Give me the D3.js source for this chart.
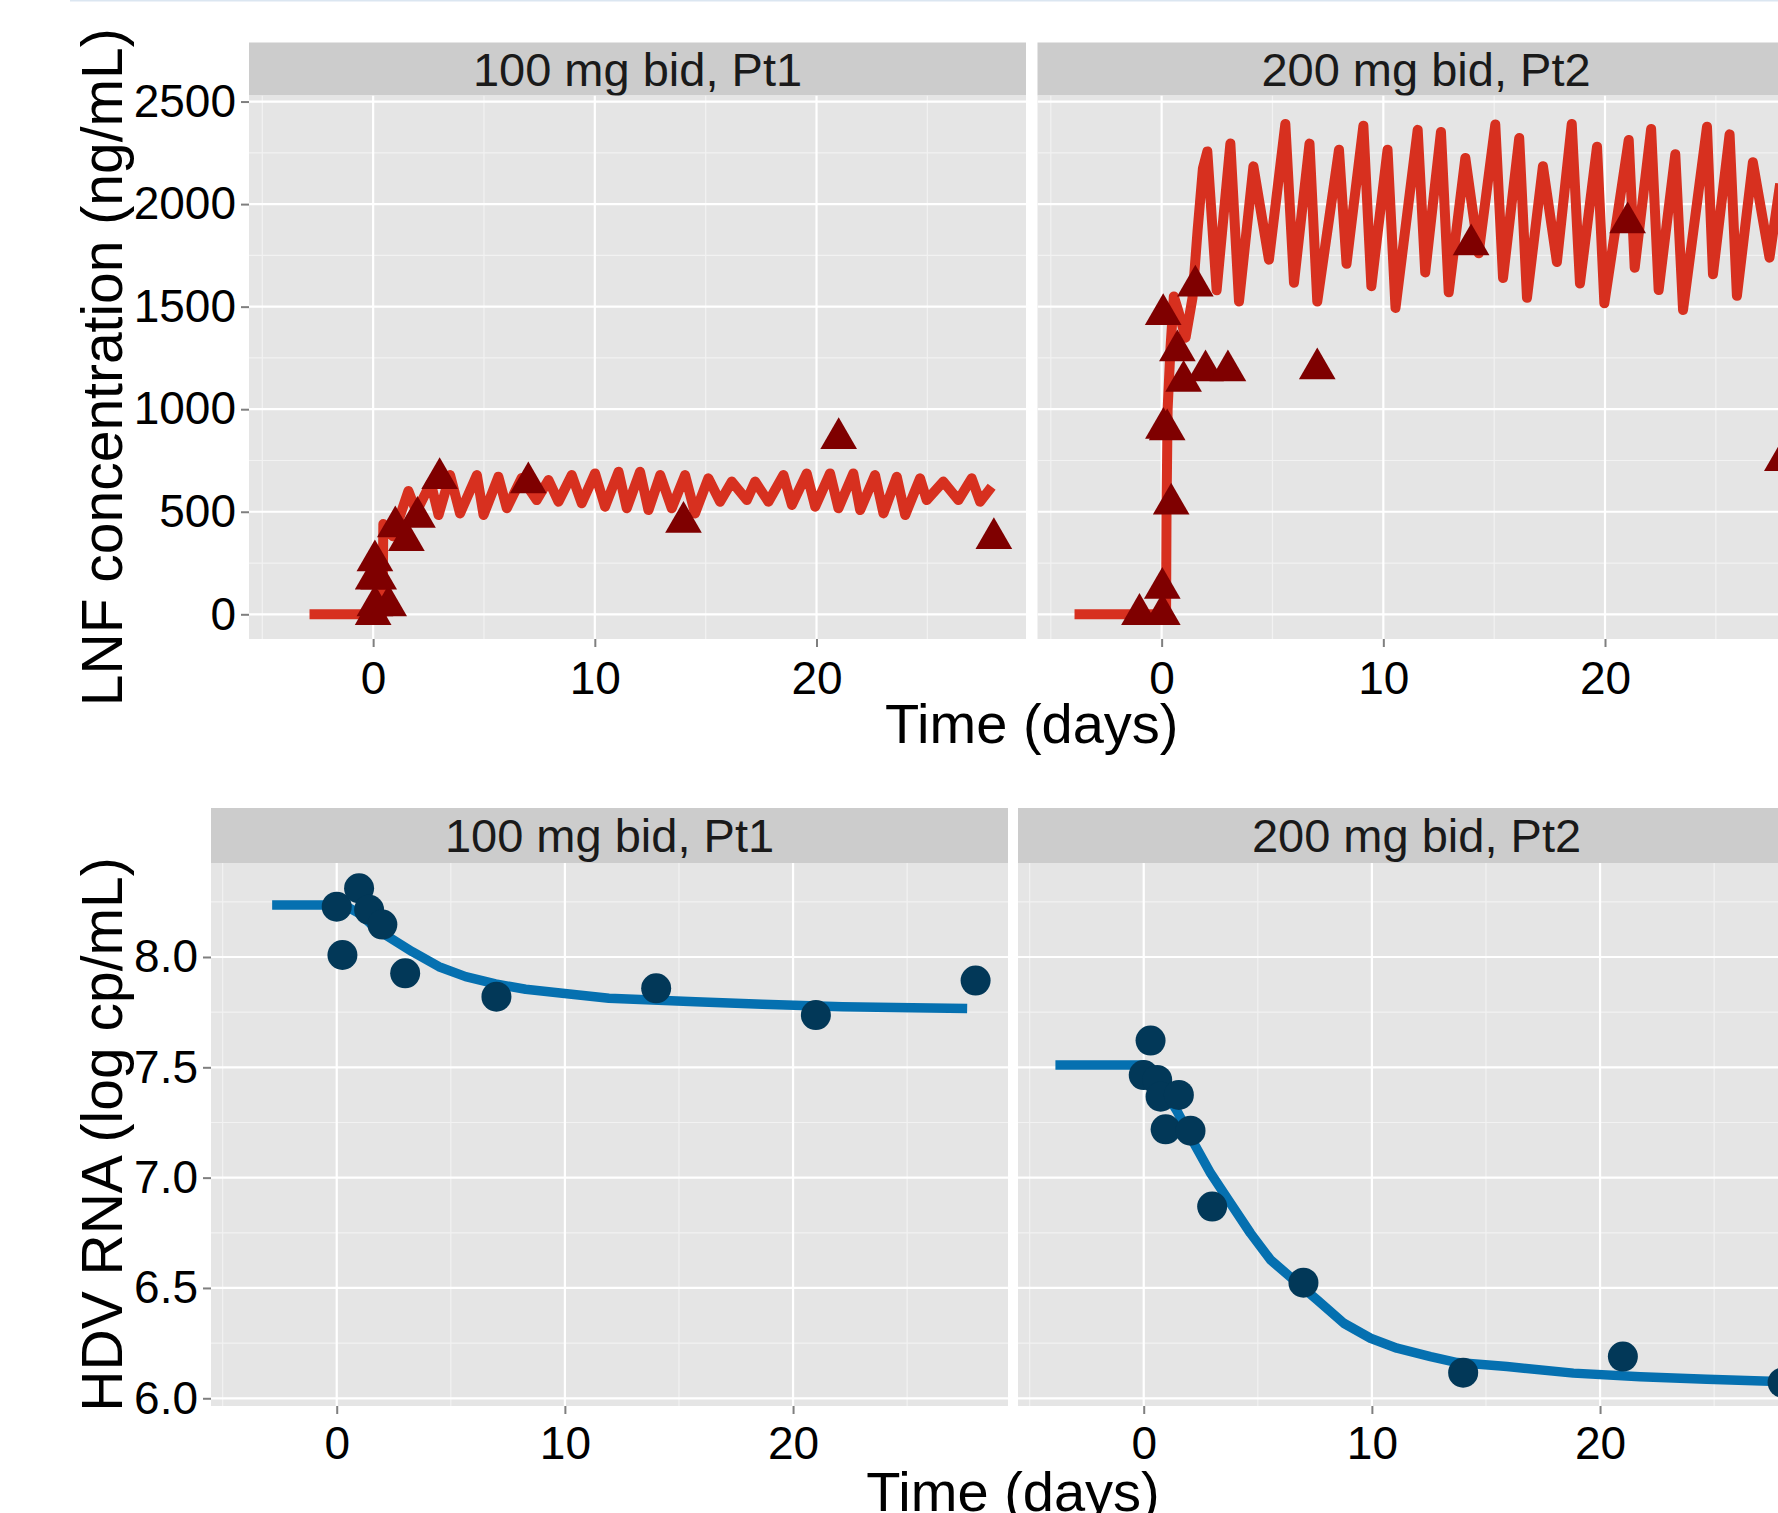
<!DOCTYPE html>
<html><head><meta charset="utf-8">
<script src="https://cdn.jsdelivr.net/npm/d3@7/dist/d3.min.js"></script>
<style>
body{margin:0;background:#fff;}
svg{display:block;}
text{font-family:"Liberation Sans", Arial, sans-serif;}
</style>
</head><body>
<svg id="chart" width="1778" height="1513"></svg>
<script>
// ---------- data ----------
const panelLabels = ["100 mg bid, Pt1", "200 mg bid, Pt2"];
const xTicks = [0, 10, 20];
const xMinorTicks = [-5, 5, 15, 25];
const lnfTicks = [0, 500, 1000, 1500, 2000, 2500];
const lnfMinorTicks = [250, 750, 1250, 1750, 2250];
const hdvTicks = [6.0, 6.5, 7.0, 7.5, 8.0];
const hdvMinorTicks = [6.25, 6.75, 7.25, 7.75, 8.25];

// LNF observed concentrations [day, ng/mL]
const lnfObsPt1 = [[0,0],[0.08,42],[0.7,42],[0,172],[0.25,172],[0.08,262],[1,427],[1.5,360],[2,474],[3,663],[7,642],[14,449],[21,858],[28,370]];
const lnfObsPt2 = [[-1,0],[0.03,0],[0.03,127],[0.43,538],[0.08,907],[0.25,900],[0.07,1462],[0.71,1285],[0.99,1137],[1.52,1601],[1.98,1188],[2.99,1188],[7.02,1198],[13.96,1802],[21.02,1909],[28,750]];

// LNF model predictions [day, ng/mL]
const lnfPredPt1 = [[-2.87,0],[0.42,0],[0.46,440],[0.9,380],[1.59,601],[1.95,500],[2.6,640],[2.95,484],[3.47,679],[3.92,492],[4.68,679],[4.98,484],[5.65,671],[6.03,517],[6.7,665],[7.38,557],[7.91,655],[8.36,549],[8.96,679],[9.41,541],[10.01,687],[10.46,525],[11.07,695],[11.44,517],[12.04,695],[12.42,508],[12.95,679],[13.47,517],[14.07,679],[14.52,492],[15.12,663],[15.65,549],[16.18,647],[16.86,557],[17.23,647],[17.83,549],[18.51,679],[18.89,533],[19.56,687],[19.94,525],[20.61,687],[20.99,517],[21.66,687],[21.97,508],[22.64,679],[23.02,492],[23.62,671],[24.0,484],[24.67,663],[24.97,557],[25.72,647],[26.4,557],[27.0,663],[27.38,549],[27.9,622]];
const lnfPredPt2 = [[-3.93,0],[0.2,0],[0.22,500],[0.27,1000],[0.4,1300],[0.55,1550],[0.75,1480],[1.08,1349],[1.39,1542],[1.62,1869],[1.86,2173],[2.06,2257],[2.48,1580],[3.1,2295],[3.49,1525],[4.14,2184],[4.84,1729],[5.58,2391],[5.97,1617],[6.67,2295],[7.02,1525],[8.0,2265],[8.34,1709],[9.1,2382],[9.46,1600],[10.19,2265],[10.55,1494],[11.55,2362],[11.89,1667],[12.6,2352],[12.95,1570],[13.7,2225],[14.3,1760],[15.05,2388],[15.4,1640],[16.13,2322],[16.48,1543],[17.2,2185],[17.83,1718],[18.5,2391],[18.87,1613],[19.64,2280],[19.97,1516],[21.07,2313],[21.34,1690],[22.08,2366],[22.42,1581],[23.17,2243],[23.52,1484],[24.6,2377],[24.87,1658],[25.62,2340],[25.95,1553],[26.67,2204],[27.42,1739],[27.9,2100]];

// HDV RNA observed [day, log cp/mL]
const hdvObsPt1 = [[0,8.228],[0.25,8.009],[0.98,8.311],[1.42,8.214],[2.0,8.147],[3,7.926],[7,7.82],[14,7.858],[21,7.737],[28,7.893]];
const hdvObsPt2 = [[0,7.465],[0.3,7.621],[0.59,7.443],[0.74,7.367],[0.96,7.219],[1.54,7.375],[2.05,7.213],[3,6.869],[7,6.524],[14,6.116],[21,6.189],[28,6.071]];

// HDV RNA model predictions [day, log cp/mL]
const hdvPredPt1 = [[-2.83,8.236],[0,8.236],[0.5,8.225],[0.98,8.198],[1.5,8.15],[2.14,8.10],[3.31,8.024],[4.48,7.956],[5.65,7.911],[6.96,7.878],[8.28,7.854],[9.89,7.836],[11.93,7.813],[15.73,7.797],[18.65,7.786],[22.16,7.775],[25.22,7.770],[27.63,7.766]];
const hdvPredPt2 = [[-3.87,7.511],[0,7.511],[0.4,7.49],[0.88,7.40],[1.47,7.30],[2.2,7.156],[2.93,7.02],[3.8,6.884],[4.68,6.748],[5.56,6.627],[6.58,6.536],[7.6,6.446],[8.77,6.34],[9.94,6.272],[11.1,6.227],[12.57,6.189],[13.74,6.162],[15.92,6.144],[18.83,6.114],[21.76,6.098],[24.68,6.086],[27.8,6.076]];

// ---------- drawing ----------
const svg = d3.select("#chart");
svg.append("rect").attr("x", 70).attr("y", 0).attr("width", 1708).attr("height", 1.5).attr("fill", "#dbe6f1");

let clipCount = 0;
function drawRow(o) {
  const y = d3.scaleLinear().domain(o.yDomain).range([o.panelBottom, o.panelTop]);
  o.panels.forEach((p, i) => {
    const left = o.lefts[i];
    const x = d3.scaleLinear().domain(o.xDomain).range([left, left + o.width]);
    const g = svg.append("g");
    // strip
    g.append("rect").attr("x", left).attr("y", o.stripTop).attr("width", o.width)
      .attr("height", o.panelTop - o.stripTop).attr("fill", "#cccccc");
    g.append("text").attr("x", left + o.width / 2).attr("y", o.stripBaseline)
      .attr("text-anchor", "middle").attr("font-size", 47).attr("fill", "#1a1a1a").text(panelLabels[i]);
    // panel
    g.append("rect").attr("x", left).attr("y", o.panelTop).attr("width", o.width)
      .attr("height", o.panelBottom - o.panelTop).attr("fill", "#e5e5e5");
    const cid = "clip" + (clipCount++);
    g.append("clipPath").attr("id", cid).append("rect")
      .attr("x", left).attr("y", o.panelTop).attr("width", o.width).attr("height", o.panelBottom - o.panelTop);
    const inner = g.append("g").attr("clip-path", `url(#${cid})`);
    // minor grid
    inner.selectAll(".vmin").data(xMinorTicks).join("line")
      .attr("x1", d => x(d)).attr("x2", d => x(d)).attr("y1", o.panelTop).attr("y2", o.panelBottom)
      .attr("stroke", "#f2f2f2").attr("stroke-width", 1.2);
    inner.selectAll(".hmin").data(o.yMinor).join("line")
      .attr("y1", d => y(d)).attr("y2", d => y(d)).attr("x1", left).attr("x2", left + o.width)
      .attr("stroke", "#f2f2f2").attr("stroke-width", 1.2);
    // major grid
    inner.selectAll(".vmaj").data(xTicks).join("line")
      .attr("x1", d => x(d)).attr("x2", d => x(d)).attr("y1", o.panelTop).attr("y2", o.panelBottom)
      .attr("stroke", "#ffffff").attr("stroke-width", 2.2);
    inner.selectAll(".hmaj").data(o.yTicks).join("line")
      .attr("y1", d => y(d)).attr("y2", d => y(d)).attr("x1", left).attr("x2", left + o.width)
      .attr("stroke", "#ffffff").attr("stroke-width", 2.2);
    // model line
    const line = d3.line().x(d => x(d[0])).y(d => y(d[1]));
    inner.append("path").datum(p.pred).attr("d", line).attr("fill", "none")
      .attr("stroke", o.lineColor).attr("stroke-width", o.lineWidth)
      .attr("stroke-linejoin", "round").attr("stroke-linecap", "butt");
    // observations
    if (o.shape === "triangle") {
      const sym = d3.symbol(d3.symbolTriangle, 583);
      inner.selectAll(".obs").data(p.obs).join("path")
        .attr("d", sym).attr("transform", d => `translate(${x(d[0])},${y(d[1])})`)
        .attr("fill", o.pointColor);
    } else {
      inner.selectAll(".obs").data(p.obs).join("circle")
        .attr("cx", d => x(d[0])).attr("cy", d => y(d[1])).attr("r", 15)
        .attr("fill", o.pointColor);
    }
    // x axis
    const xa = g.append("g").attr("transform", `translate(0,${o.panelBottom})`)
      .call(d3.axisBottom(x).tickValues(xTicks).tickSize(8).tickPadding(o.xPad));
    xa.select(".domain").remove();
    xa.selectAll("line").attr("stroke", "#7f7f7f").attr("stroke-width", 2);
    xa.selectAll("text").attr("font-size", 46).attr("fill", "#000")
      .attr("font-family", "Liberation Sans, Arial, sans-serif");
    // y axis only on first panel
    if (i === 0) {
      const ya = g.append("g").attr("transform", `translate(${left},0)`)
        .call(d3.axisLeft(y).tickValues(o.yTicks).tickSize(8).tickPadding(5).tickFormat(o.fmt));
      ya.select(".domain").remove();
      ya.selectAll("line").attr("stroke", "#7f7f7f").attr("stroke-width", 2);
      ya.selectAll("text").attr("font-size", 46).attr("fill", "#000")
        .attr("font-family", "Liberation Sans, Arial, sans-serif");
    }
  });
  // axis titles
  const mid = (o.lefts[0] + o.lefts[1] + o.width) / 2;
  svg.append("text").attr("x", mid).attr("y", o.xTitleBaseline).attr("text-anchor", "middle")
    .attr("font-size", 56).attr("fill", "#000").text("Time (days)");
  svg.append("text").attr("transform", `translate(${o.yTitleX},${(o.panelTop + o.panelBottom) / 2}) rotate(-90)`)
    .attr("text-anchor", "middle").attr("font-size", 57).attr("fill", "#000").text(o.yTitle);
}

drawRow({
  lefts: [249, 1037.5], width: 777,
  stripTop: 42.5, panelTop: 95.5, panelBottom: 639, stripBaseline: 86,
  xDomain: [-5.6, 29.45], yDomain: [-120.4, 2529.5],
  yTicks: lnfTicks, yMinor: lnfMinorTicks, fmt: d3.format("d"),
  xPad: 14, xTitleBaseline: 743, yTitleX: 122,
  yTitle: "LNF concentration (ng/mL)",
  lineColor: "#d7301f", lineWidth: 10, pointColor: "#7f0000", shape: "triangle",
  panels: [{pred: lnfPredPt1, obs: lnfObsPt1}, {pred: lnfPredPt2, obs: lnfObsPt2}]
});

drawRow({
  lefts: [211, 1018], width: 797,
  stripTop: 808, panelTop: 863, panelBottom: 1406, stripBaseline: 852,
  xDomain: [-5.51, 29.42], yDomain: [5.965, 8.426],
  yTicks: hdvTicks, yMinor: hdvMinorTicks, fmt: d3.format(".1f"),
  xPad: 12, xTitleBaseline: 1511, yTitleX: 122,
  yTitle: "HDV RNA (log cp/mL)",
  lineColor: "#0570b0", lineWidth: 9.5, pointColor: "#023858", shape: "circle",
  panels: [{pred: hdvPredPt1, obs: hdvObsPt1}, {pred: hdvPredPt2, obs: hdvObsPt2}]
});
</script>
</body></html>
